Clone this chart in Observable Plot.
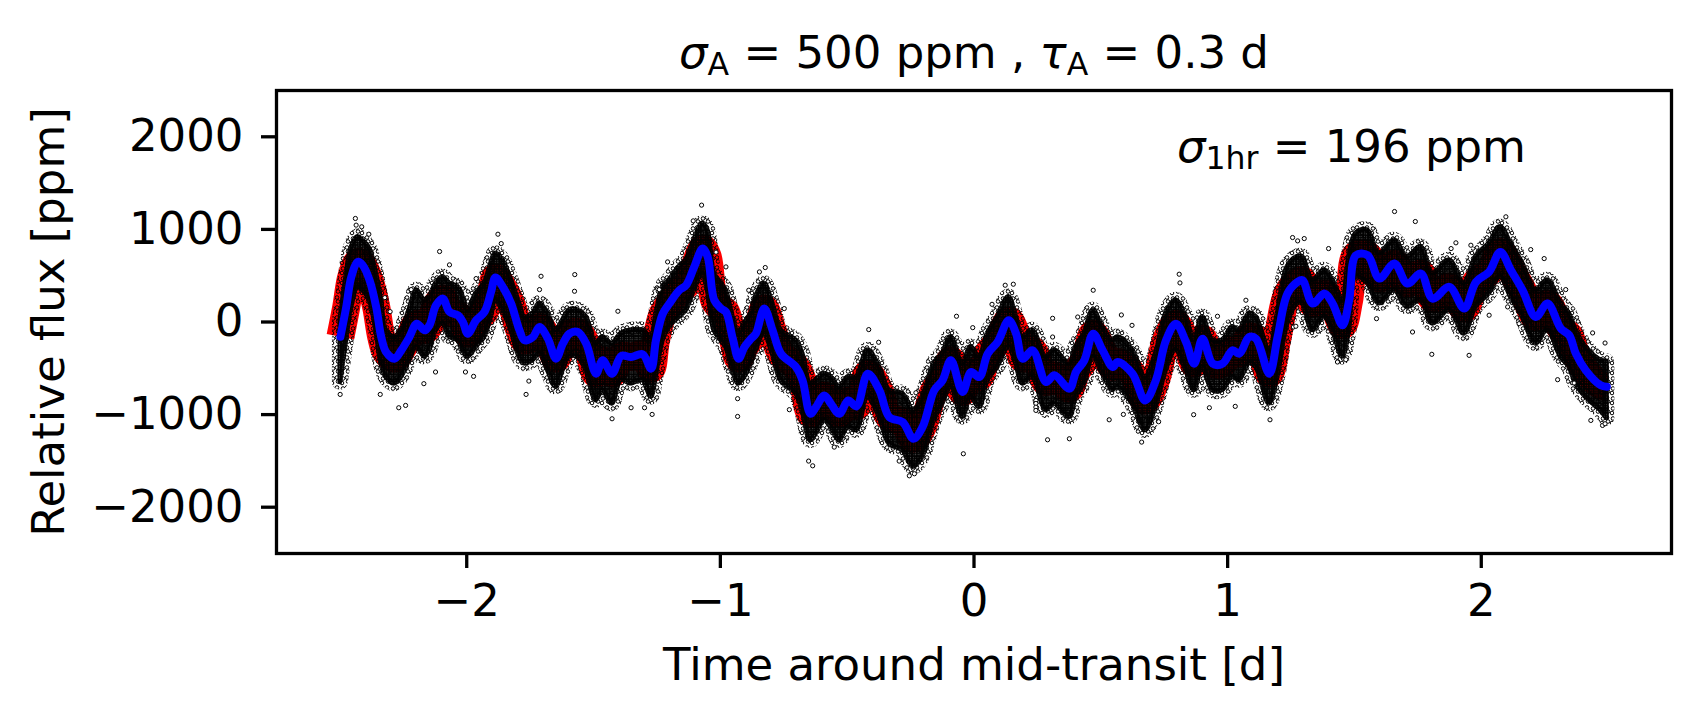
<!DOCTYPE html>
<html><head><meta charset="utf-8">
<script src="https://cdn.jsdelivr.net/npm/d3@7"></script>
<script src="https://cdn.jsdelivr.net/npm/@observablehq/plot@0.6"></script>
<style>body{margin:0;background:#fff}</style>
</head><body><div id="chart"></div>
<script>
// Time around mid-transit [d]
const time = [-2.498,-2.475,-2.455,-2.429,-2.410,-2.383,-2.357,-2.337,-2.318,-2.285,-2.258,-2.226,-2.197,-2.166,-2.147,-2.121,-2.094,-2.068,-2.035,-2.015,-1.996,-1.963,-1.930,-1.904,-1.887,-1.858,-1.825,-1.792,-1.772,-1.739,-1.713,-1.680,-1.648,-1.621,-1.595,-1.562,-1.529,-1.490,-1.464,-1.427,-1.391,-1.352,-1.306,-1.273,-1.254,-1.227,-1.201,-1.162,-1.135,-1.103,-1.070,-1.050,-1.024,-0.997,-0.978,-0.951,-0.928,-0.905,-0.879,-0.860,-0.827,-0.794,-0.761,-0.702,-0.676,-0.645,-0.623,-0.590,-0.564,-0.531,-0.496,-0.463,-0.419,-0.373,-0.334,-0.281,-0.239,-0.203,-0.157,-0.124,-0.091,-0.045,-0.012,0.021,0.054,0.093,0.137,0.166,0.192,0.231,0.284,0.317,0.376,0.402,0.435,0.470,0.507,0.547,0.566,0.625,0.675,0.717,0.757,0.796,0.836,0.868,0.901,0.941,0.980,1.019,1.046,1.085,1.112,1.164,1.197,1.236,1.276,1.295,1.335,1.381,1.414,1.453,1.479,1.506,1.552,1.598,1.657,1.709,1.762,1.808,1.874,1.933,1.979,2.031,2.075,2.117,2.163,2.215,2.261,2.314,2.347,2.373,2.412,2.471,2.495];
// Smoothed (blue) curve [ppm]
const smooth = [-160,163,487,649,613,451,163,-162,-324,-396,-306,-162,-18,-90,-36,181,253,109,73,0,-126,18,109,325,480,379,199,-90,-198,-162,-54,-180,-396,-234,-126,-108,-234,-558,-414,-558,-367,-378,-349,-504,-198,90,199,343,397,595,793,703,235,145,109,-180,-396,-270,-180,-126,145,-90,-342,-486,-630,-991,-919,-793,-883,-991,-847,-911,-558,-738,-1027,-1081,-1261,-1135,-738,-630,-414,-756,-540,-594,-342,-216,18,-126,-396,-306,-648,-576,-720,-540,-414,-126,-306,-486,-432,-558,-847,-630,-198,-18,-216,-450,-180,-450,-450,-306,-342,-162,-180,-558,-162,307,433,451,199,307,199,-36,235,721,721,469,631,415,523,253,379,145,433,541,757,559,343,54,199,-72,-144,-342,-522,-684,-700];
// Upper edge of the dense cloud of measurements [ppm]
const cloudHigh = [20,480,800,919,883,793,523,235,-90,-162,-90,127,343,235,271,415,487,415,379,271,127,307,415,631,739,667,451,199,54,90,199,90,-90,18,127,127,54,-234,-162,-234,-126,-90,-90,-162,54,379,451,595,667,883,1063,991,523,415,343,54,-126,-18,90,271,415,199,-90,-198,-342,-666,-630,-558,-594,-702,-594,-594,-306,-486,-738,-775,-955,-811,-450,-342,-162,-450,-270,-378,-126,54,271,54,-162,-90,-378,-306,-450,-270,-126,127,-54,-198,-162,-306,-594,-342,90,235,54,-198,54,-198,-198,-54,-90,90,54,-306,90,595,703,703,451,559,451,235,703,955,991,739,883,703,811,523,667,415,703,847,1027,847,631,343,451,199,90,-90,-270,-414,-430];
// Lower edge of the dense cloud of measurements [ppm]
const cloudLow = [-650,-200,150,379,343,235,-90,-450,-594,-666,-594,-414,-270,-378,-306,-90,-18,-162,-198,-306,-378,-270,-162,54,235,127,-90,-378,-450,-414,-342,-522,-702,-522,-378,-378,-522,-847,-738,-883,-630,-666,-630,-810,-594,-198,-54,54,127,343,523,343,-90,-198,-270,-522,-666,-594,-450,-306,-126,-342,-630,-774,-955,-1279,-1207,-1063,-1135,-1279,-1135,-1171,-811,-1027,-1315,-1387,-1567,-1459,-1063,-883,-702,-1027,-811,-919,-630,-486,-270,-450,-666,-594,-955,-883,-1027,-811,-666,-378,-558,-738,-702,-883,-1171,-919,-522,-306,-522,-738,-486,-738,-738,-594,-630,-450,-486,-883,-594,-18,199,199,-90,54,-90,-378,-90,487,415,199,343,163,235,-18,127,-126,163,307,487,271,54,-234,-90,-378,-486,-666,-811,-955,-1040];
// Scattered individual measurements outside the dense cloud
const scatterTime = [-2.439,-2.436,-2.414,-2.386,-2.499,-2.268,-2.241,-2.341,-2.169,-2.107,-2.068,-2.219,-2.323,-2.302,-1.877,-1.864,-1.707,-1.574,-1.713,-1.755,-1.766,-1.427,-1.352,-1.299,-1.269,-1.404,-1.575,-2.123,-2.005,-1.973,-1.963,-1.247,-1.074,-1.107,-1.208,-1.241,-0.978,-1.017,-0.932,-0.888,-0.823,-0.846,-0.748,-0.652,-0.636,-0.415,-0.376,-0.069,-0.005,-0.042,-0.255,-0.235,-0.932,-0.728,-0.229,-0.551,-0.295,0.071,0.123,0.155,0.310,0.244,0.244,0.244,0.244,0.290,0.376,0.470,0.581,0.623,0.809,0.812,0.661,0.728,0.866,0.928,1.030,1.167,1.256,1.276,0.310,0.409,0.533,0.589,1.072,0.960,1.658,1.740,1.302,1.398,1.805,1.952,1.433,1.466,2.097,1.900,1.881,1.959,2.248,2.195,2.439,2.488,2.301,2.432,2.478,2.488,2.031,2.149,1.259,1.269,1.729,1.587,2.104,2.333,2.366];
const scatterFlux = [1118,1046,1028,948,-782,-926,-901,-782,-666,761,617,350,263,112,948,847,494,512,350,-638,-782,-1045,-926,-926,-998,116,332,-540,-540,-587,469,357,1262,1092,649,350,595,754,-1020,343,588,541,145,-1502,-1553,-82,-219,62,-61,-1423,-1661,-1639,-828,-947,-764,-1351,-1502,191,397,408,40,-847,-880,-920,-955,-1272,-1261,343,76,-36,516,422,-1297,-1077,-1001,-926,-911,-1056,912,876,-162,54,-1056,-998,235,62,1193,1085,901,793,-349,-360,-432,-407,1136,855,793,829,685,782,-118,-227,-623,-1063,-1117,-1099,73,-18,-54,-46,-108,36,163,350,-659];
const xTicks = [-2, -1, 0, 1, 2];
const yTicks = [-2000, -1000, 0, 1000, 2000];
const titleParts = [["σ", "it"], ["A", "sub"], [" = 500 ppm , ", ""], ["τ", "it"], ["A", "sub"], [" = 0.3 d", ""]];
const noteParts = [["σ", "it"], ["1hr", "sub"], [" = 196 ppm", ""]];
const xLabel = "Time around mid-transit [d]";
const yLabel = "Relative flux [ppm]";

const series = time.map((t, i) => ({t, blue: smooth[i], hi: cloudHigh[i], lo: cloudLow[i]}));
const scatter = scatterTime.map((t, i) => ({t, v: scatterFlux[i]}));
const titleText = titleParts.map(d => d[0]).join("");
const noteText = noteParts.map(d => d[0]).join("");

const FS = 45;
const chart = Plot.plot({
  width: 1700, height: 719,
  marginLeft: 276, marginRight: 29, marginTop: 90, marginBottom: 166,
  style: {fontFamily: "DejaVu Sans", fontSize: FS + "px", background: "white", color: "black", overflow: "visible"},
  x: {domain: [-2.75, 2.75]},
  y: {domain: [-2500, 2500]},
  marks: [
    Plot.line(series, {x: "t", y: "blue", curve: "catmull-rom", stroke: "red", strokeWidth: 28, strokeLinecap: "butt", strokeLinejoin: "round"}),
    Plot.areaY(series, {x: "t", y1: "lo", y2: "hi", curve: "catmull-rom", fill: "none", stroke: "url(#cloudSparse)", strokeWidth: 16}),
    Plot.areaY(series, {x: "t", y1: "lo", y2: "hi", curve: "catmull-rom", fill: "url(#cloudDense)", stroke: "url(#cloudDense)", strokeWidth: 5}),
    Plot.dot(scatter, {x: "t", y: "v", r: 2.1, stroke: "black", strokeWidth: 1, fill: "white"}),
    Plot.line(series, {x: "t", y: "blue", curve: "catmull-rom", stroke: "#0000ff", strokeWidth: 8, strokeLinejoin: "round"}),
    Plot.axisX({ticks: xTicks, tickSize: 15, tickPadding: 16, tickFormat: d3.format("d"), strokeWidth: 3.3, fontSize: FS, label: null}),
    Plot.axisY({ticks: yTicks, tickSize: 15, tickPadding: 18, tickFormat: d3.format("d"), strokeWidth: 3.3, fontSize: FS, label: null}),
    Plot.frame({stroke: "black", strokeWidth: 3.3}),
    Plot.text([titleText], {text: d => d, frameAnchor: "top", dy: -23, lineAnchor: "bottom", fontSize: FS}),
    Plot.text([{t: 0.8, v: 1726, s: noteText}], {x: "t", y: "v", text: "s", textAnchor: "start", lineAnchor: "bottom", fontSize: FS}),
    Plot.text([xLabel], {text: d => d, frameAnchor: "bottom", dy: 126, lineAnchor: "bottom", fontSize: FS}),
    Plot.text([yLabel], {text: d => d, frameAnchor: "left", dx: -213, rotate: -90, textAnchor: "middle", lineAnchor: "bottom", fontSize: FS})
  ]
});
document.getElementById("chart").appendChild(chart);

// Marker texture for the dense cloud of hollow-circle measurements
const defs = d3.select(chart).insert("defs", ":first-child");
function markerPattern(id, size, centers, r, sw) {
  const p = defs.append("pattern").attr("id", id).attr("patternUnits", "userSpaceOnUse")
    .attr("width", size).attr("height", size);
  for (const [cx, cy] of centers)
    for (const ox of [-size, 0, size])
      for (const oy of [-size, 0, size])
        p.append("circle").attr("cx", cx + ox).attr("cy", cy + oy).attr("r", r)
          .attr("fill", "none").attr("stroke", "black").attr("stroke-width", sw);
}
markerPattern("cloudDense", 4.8, [[1.1, 1.2], [3.5, 3.6], [3.7, 0.9], [1.0, 3.8]], 1.7, 1.1);
markerPattern("cloudSparse", 10, [[2, 3], [7, 7.5], [8, 1.5], [3, 8.5]], 1.8, 1.0);

function richText(str, parts) {
  d3.select(chart).selectAll("text").filter(function() { return this.textContent === str; }).each(function() {
    const sel = d3.select(this);
    sel.text(null);
    let down = false;
    for (const [s, kind] of parts) {
      const ts = sel.append("tspan").text(s);
      if (kind === "it") ts.attr("font-style", "italic");
      if (kind === "sub") {
        ts.attr("font-size", (FS * 0.7) + "px");
        if (!down) { ts.attr("dy", (FS * 0.16) + "px"); down = true; }
      } else if (down) {
        ts.attr("dy", (-FS * 0.16) + "px"); down = false;
      }
    }
  });
}
richText(titleText, titleParts);
richText(noteText, noteParts);
</script>
</body></html>
